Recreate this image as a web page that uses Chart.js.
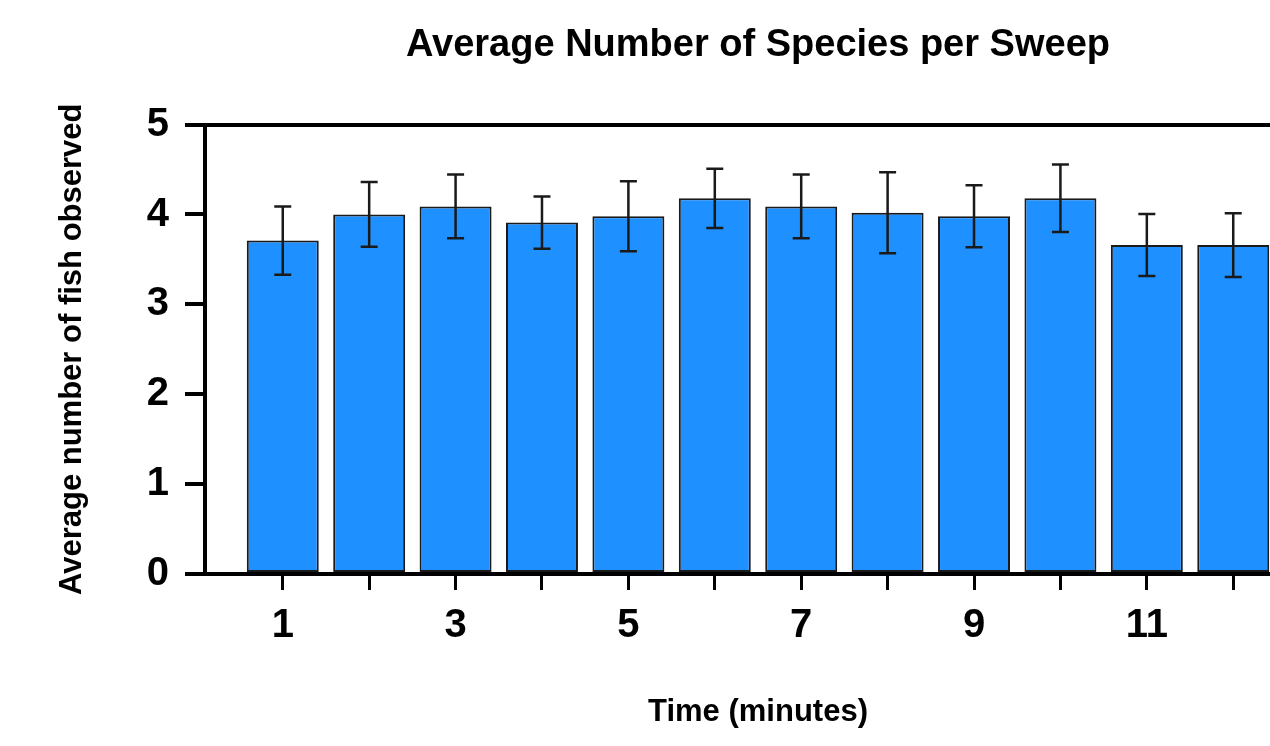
<!DOCTYPE html>
<html>
<head>
<meta charset="utf-8">
<title>Average Number of Species per Sweep</title>
<script src="https://cdn.jsdelivr.net/npm/chart.js@4.4.1/dist/chart.umd.min.js"></script>
<style>
    html, body { margin: 0; padding: 0; overflow: hidden; background: #ffffff; }
</style>
</head>
<body>
<canvas id="speciesChart" width="1330" height="746"></canvas>
<script>
// Data
const minutes = [1, 2, 3, 4, 5, 6, 7, 8, 9, 10, 11, 12];
const meanSpecies = [3.71, 4.00, 4.09, 3.91, 3.98, 4.18, 4.09, 4.02, 3.98, 4.18, 3.66, 3.66];
const errorSpecies = [0.38, 0.36, 0.355, 0.29, 0.39, 0.33, 0.355, 0.45, 0.345, 0.375, 0.345, 0.355];
const yTicks = [0, 1, 2, 3, 4, 5];
const xLabelled = [1, 3, 5, 7, 9, 11];

const fontFamily = '"Liberation Sans", Arial, sans-serif';

// Error bars (mean +/- error) drawn through the chart's own scales
const errorBars = {
    id: 'errorBars',
    afterDatasetsDraw(chart) {
        const { ctx, scales: { x, y } } = chart;
        ctx.save();
        ctx.strokeStyle = '#1a1a1a';
        ctx.lineWidth = 2.5;
        minutes.forEach((m, i) => {
            const px = x.getPixelForValue(m);
            const hi = y.getPixelForValue(meanSpecies[i] + errorSpecies[i]);
            const lo = y.getPixelForValue(meanSpecies[i] - errorSpecies[i]);
            ctx.beginPath();
            ctx.moveTo(px, hi); ctx.lineTo(px, lo);
            ctx.moveTo(px - 8.5, hi); ctx.lineTo(px + 8.5, hi);
            ctx.moveTo(px - 8.5, lo); ctx.lineTo(px + 8.5, lo);
            ctx.stroke();
        });
        ctx.restore();
    }
};

new Chart(document.getElementById('speciesChart'), {
    type: 'bar',
    data: {
        datasets: [{
            label: 'Average number of species',
            data: minutes.map((m, i) => ({ x: m, y: meanSpecies[i] })),
            backgroundColor: '#1e90ff',
            borderColor: '#1a1a1a',
            borderWidth: 2,
            borderSkipped: false,
            categoryPercentage: 1,
            barPercentage: 0.833
        }]
    },
    options: {
        responsive: false,
        animation: false,
        layout: { padding: { top: 0, right: 19, bottom: 0, left: 0 } },
        plugins: {
            legend: { display: false },
            tooltip: { enabled: false },
            title: {
                display: true,
                fullSize: false,
                text: 'Average Number of Species per Sweep',
                color: '#000',
                font: { family: fontFamily, size: 38, weight: 'bold' },
                padding: { top: 23, bottom: 56 }
            }
        },
        scales: {
            x: {
                type: 'linear',
                min: 0.1,
                max: 12.9,
                offset: false,
                afterFit: (scale) => { scale.height = 172; },
                border: { display: true, color: '#000', width: 4 },
                grid: {
                    offset: false,
                    drawOnChartArea: false,
                    tickLength: 16,
                    tickWidth: 3,
                    tickColor: '#000'
                },
                ticks: {
                    stepSize: 1,
                    includeBounds: false,
                    autoSkip: false,
                    maxRotation: 0,
                    padding: 12,
                    color: '#000',
                    font: { family: fontFamily, size: 40, weight: 'bold' },
                    callback: (v) => xLabelled.includes(v) ? String(v) : ''
                },
                title: {
                    display: true,
                    text: 'Time (minutes)',
                    color: '#000',
                    font: { family: fontFamily, size: 31, weight: 'bold' },
                    padding: { top: 0, bottom: 15 }
                }
            },
            y: {
                min: yTicks[0],
                max: yTicks[yTicks.length - 1],
                afterFit: (scale) => { scale.width = 205; },
                border: { display: true, color: '#000', width: 4 },
                grid: {
                    color: (c) => c.tick && c.tick.value === yTicks[yTicks.length - 1] ? '#000' : 'rgba(0,0,0,0)',
                    lineWidth: 4,
                    tickLength: 20,
                    tickWidth: 4,
                    tickColor: '#000'
                },
                ticks: {
                    stepSize: 1,
                    padding: 16,
                    color: '#000',
                    font: { family: fontFamily, size: 40, weight: 'bold' }
                },
                title: {
                    display: true,
                    text: 'Average number of fish observed',
                    color: '#000',
                    font: { family: fontFamily, size: 31, weight: 'bold' },
                    padding: { top: 54, bottom: 0 }
                }
            }
        }
    },
    plugins: [errorBars]
});
</script>
</body>
</html>
